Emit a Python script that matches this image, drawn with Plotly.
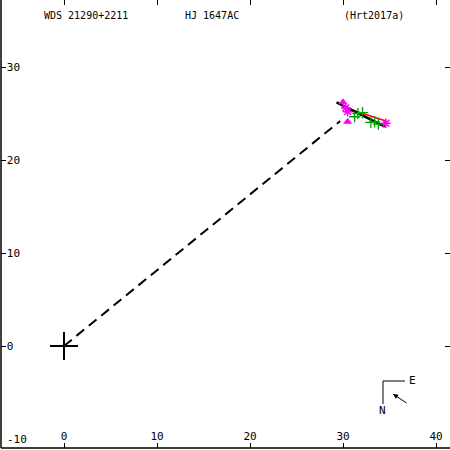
import plotly.graph_objects as go

# data
orbit_x = [29.3, 34.5]
orbit_y = [26.2, 23.6]
red_x = [30.0, 34.6]
red_y = [25.7, 24.2]
dash_x = [0.0, 29.7]
dash_y = [0.0, 24.2]
green_x = [31.25, 31.6, 32.1, 33.0, 33.4, 33.8]
green_y = [24.65, 25.0, 25.1, 24.05, 24.1, 23.85]
star_x = [30.3, 30.5, 34.6]
star_y = [25.6, 25.2, 23.95]
tri_x = [30.0, 30.5]
tri_y = [26.2, 24.1]
tick_vals = [-10, 0, 10, 20, 30, 40]
tick_text = ["-10", "0", "10", "20", "30", "40"]

FONT = "DejaVu Sans Mono"

fig = go.Figure()
fig.add_trace(go.Scatter(x=dash_x, y=dash_y, mode="lines",
                         line=dict(color="black", width=2, dash="10px,6px")))
fig.add_trace(go.Scatter(x=red_x, y=red_y, mode="lines",
                         line=dict(color="red", width=1.6)))
fig.add_trace(go.Scatter(x=orbit_x, y=orbit_y, mode="lines",
                         line=dict(color="black", width=2.5)))
fig.add_trace(go.Scatter(x=green_x, y=green_y, mode="markers",
                         marker=dict(symbol="cross-thin-open", size=8, color="#00a000",
                                     line=dict(color="#00a000", width=1.3))))
fig.add_trace(go.Scatter(x=star_x, y=star_y, mode="markers",
                         marker=dict(symbol="asterisk-open", size=8, color="magenta",
                                     line=dict(color="magenta", width=1.5))))
fig.add_trace(go.Scatter(x=tri_x, y=tri_y, mode="markers",
                         marker=dict(symbol="triangle-up", size=8, color="magenta")))
fig.add_trace(go.Scatter(x=[0], y=[0], mode="markers",
                         marker=dict(symbol="cross-thin-open", size=20, color="black",
                                     line=dict(color="black", width=2))))

axis_common = dict(
    tickmode="array", tickvals=tick_vals, ticktext=tick_text,
    ticks="inside", ticklen=5, tickwidth=1, tickcolor="black",
    ticklabelposition="inside", showgrid=False, zeroline=False,
    showline=True, linecolor="rgba(0,0,0,0)", mirror="ticks",
    automargin=False,
    tickfont=dict(family=FONT, size=11, color="black"),
)
fig.update_xaxes(range=[-6.774, 41.505], **axis_common)
fig.update_yaxes(range=[-10.968, 37.204], **axis_common)

# axis lines (left and bottom)
fig.add_shape(type="line", xref="paper", yref="paper", x0=0, x1=0, y0=0, y1=1,
              line=dict(color="black", width=1.5))
fig.add_shape(type="line", xref="paper", yref="paper", x0=0, x1=1, y0=0, y1=0,
              line=dict(color="black", width=1.5))

# compass (paper coords; plot area 449x448 starting at pixel x=1, y=0)
def px(xp):
    return (xp - 1) / 449.0

def py(yp):
    return 1 - yp / 448.0

fig.add_shape(type="line", xref="paper", yref="paper",
              x0=px(383), y0=py(381), x1=px(405), y1=py(381),
              line=dict(color="black", width=1))
fig.add_shape(type="line", xref="paper", yref="paper",
              x0=px(383), y0=py(381), x1=px(383), y1=py(404),
              line=dict(color="black", width=1))
fig.add_annotation(x=px(393), y=py(394), ax=15, ay=10,
                   xref="paper", yref="paper", axref="pixel", ayref="pixel",
                   showarrow=True, arrowhead=2, arrowsize=1, arrowwidth=1,
                   arrowcolor="black", text="")
txt_common = dict(xref="paper", yref="paper", showarrow=False,
                  xanchor="center", yanchor="middle")
fig.add_annotation(x=px(412), y=py(380), text="E",
                   font=dict(family=FONT, size=11, color="black"), **txt_common)
fig.add_annotation(x=px(382), y=py(410), text="N",
                   font=dict(family=FONT, size=11, color="black"), **txt_common)

# y tick label at -10 (plotly hides it where it meets the x labels)
fig.add_annotation(x=px(5), y=tick_vals[0], xref="paper", yref="y",
                   text=tick_text[0], showarrow=False, xanchor="left", yanchor="middle",
                   font=dict(family=FONT, size=11, color="black"))

for txt, cx in [("WDS 21290+2211", 86), ("HJ 1647AC", 212), ("(Hrt2017a)", 374)]:
    fig.add_annotation(x=px(cx), y=py(16), text=txt,
                       font=dict(family=FONT, size=10, color="black"), **txt_common)

fig.update_layout(
    width=450, height=450, showlegend=False,
    margin=dict(l=1, r=0, t=0, b=2, autoexpand=False),
    paper_bgcolor="white", plot_bgcolor="white",
)

fig.write_html("out.html", config={"displayModeBar": False},
               post_script="document.body.style.margin='0';document.body.style.overflow='hidden';")
